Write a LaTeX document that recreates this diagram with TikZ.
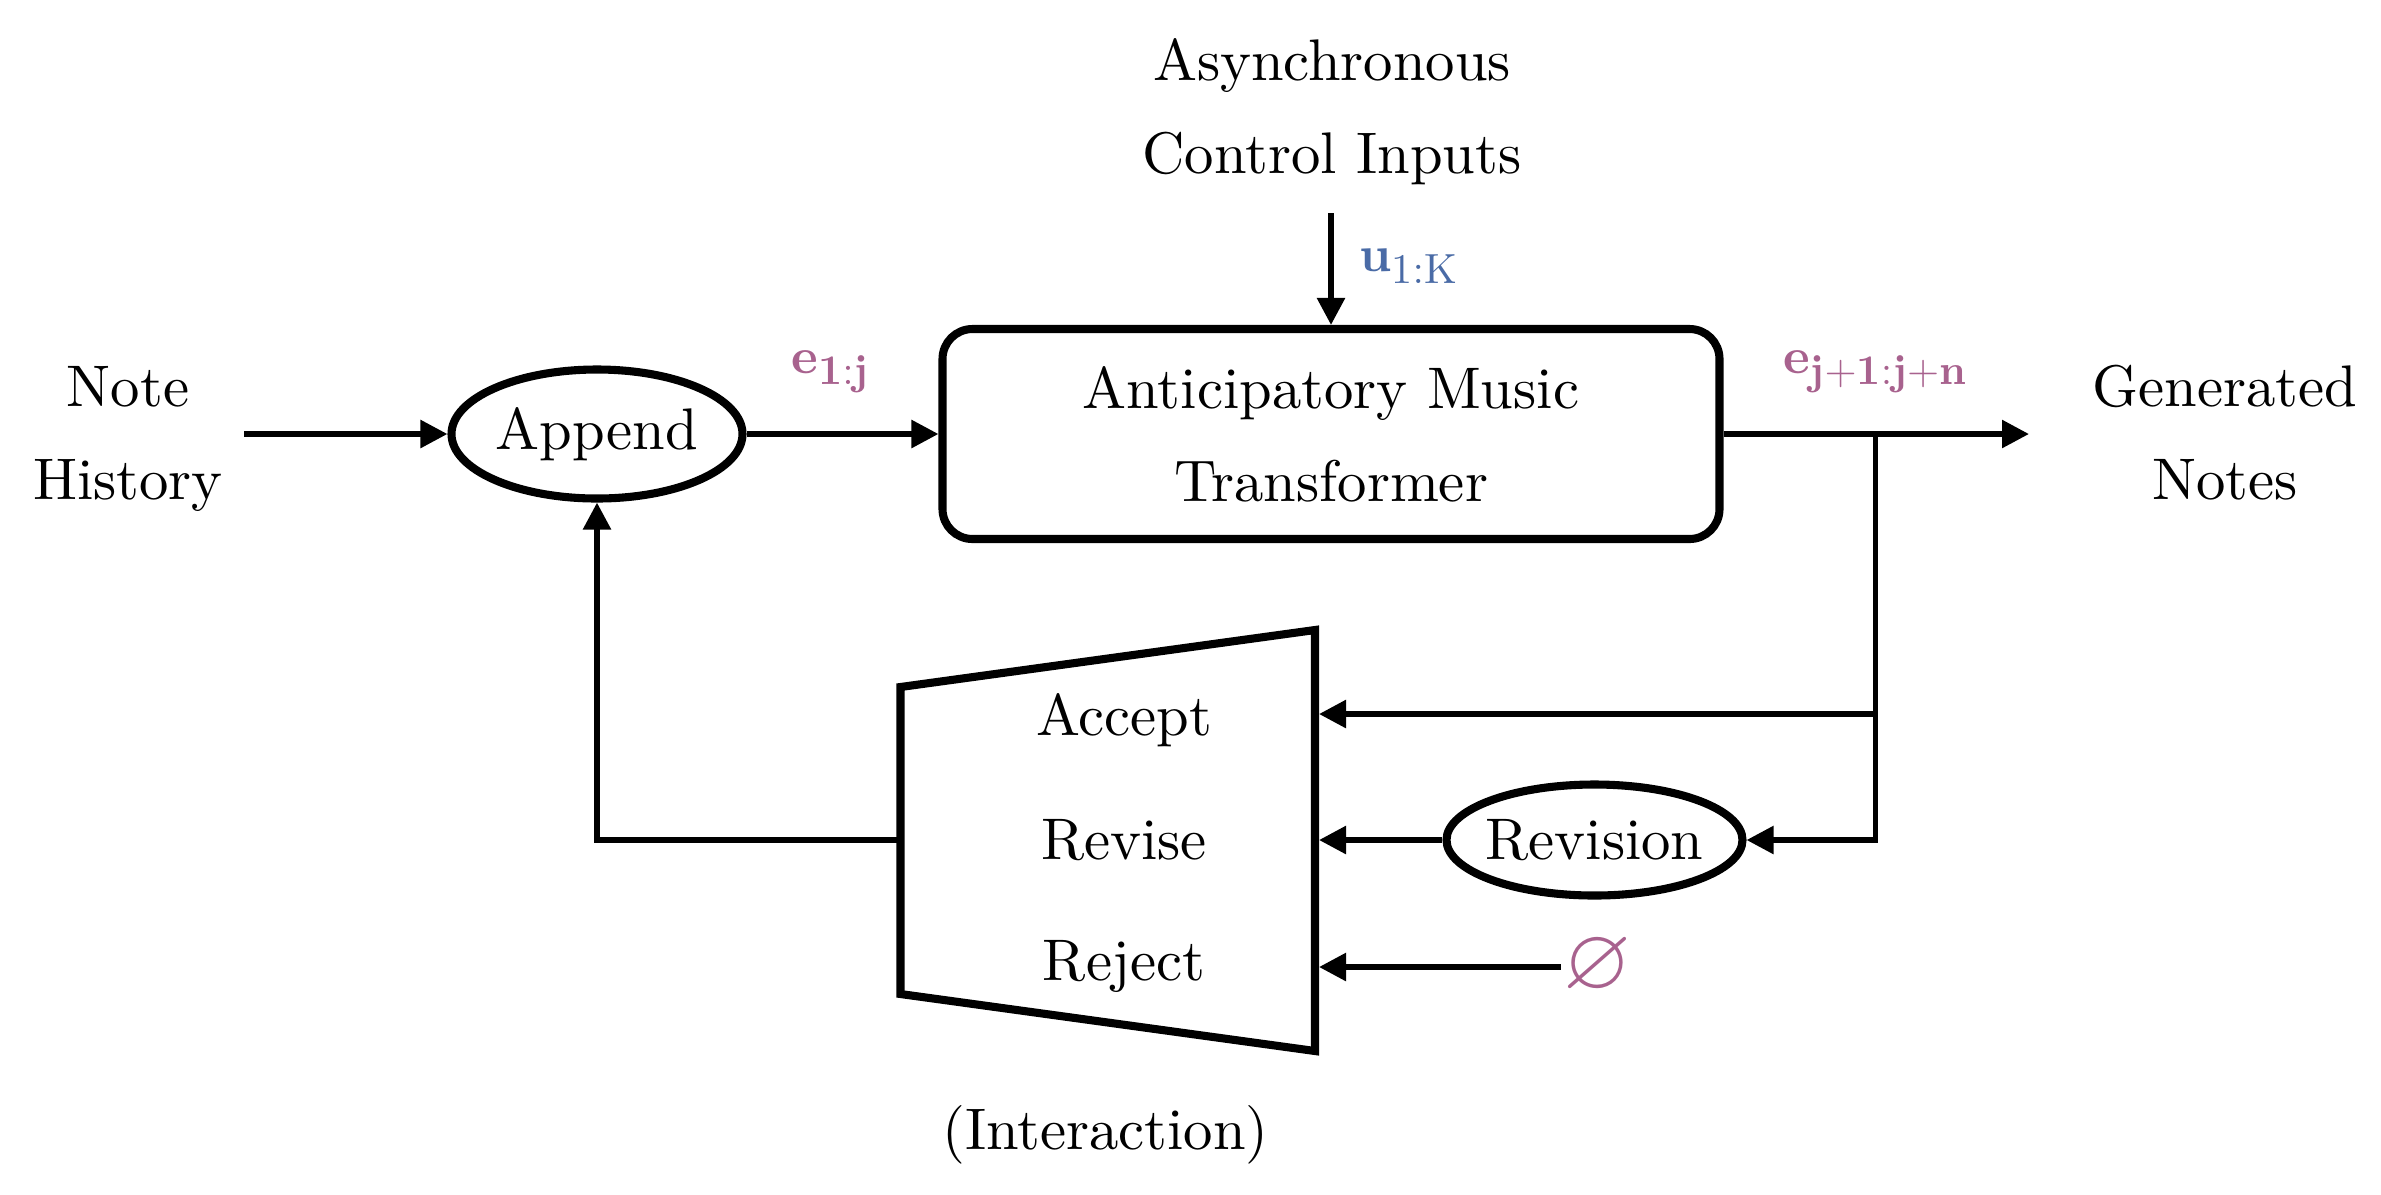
\documentclass[tikz,border=0pt]{standalone}
\usepackage{fontspec}
\setmainfont{lmroman10-regular}[Extension=.otf, BoldFont=lmroman10-bold, ItalicFont=lmroman10-italic]
\usepackage{amsmath, amssymb}
\usepackage{tikz}
\usetikzlibrary{shapes, arrows.meta, positioning, calc}
\DeclareMathSizes{14.4}{14.4}{12}{10}
\definecolor{evtpink}{RGB}{168, 98, 142}
\definecolor{ctrlblue}{RGB}{74, 107, 166}

\begin{document}
\begin{tikzpicture}[
  bigtext/.style={font=\fontsize{16.7}{26.5}\selectfont, align=center},
  flow/.style={line width=1.6pt, -{Triangle[length=0.27cm, width=0.27cm]}},
  oval/.style={draw, ellipse, line width=2.3pt, inner sep=0pt, inner xsep=-0.2cm, bigtext},
  tag/.style={font=\Large}
]
  \useasboundingbox (0,0) rectangle (23.81,-11.94);

  % Main row
  \node[bigtext] (history) at (1.28,-4.39) {Note\\History};
  \node[oval, minimum width=2.91cm, minimum height=1.29cm] (append) at (5.97,-4.34) {Append};
  \node[bigtext, draw, rounded corners=0.3cm, line width=2.3pt,
        minimum width=7.77cm, minimum height=2.10cm] (amt) at (13.31,-4.34) {Anticipatory Music\\Transformer};
  \node[bigtext] (generated) at (22.25,-4.33) {Generated\\Notes};
  \node[bigtext] (controls) at (13.32,-1.12) {Asynchronous\\Control Inputs};
  \coordinate (ctl) at (13.31,-2.13);
  \coordinate (out) at (20.29,-4.34);
  \coordinate (split) at (18.755,-4.34);

  % Labels on the connectors
  \node[tag, text=ctrlblue] (u) at (14.09,-2.66) {$\mathbf{u}_{\mathrm{1:K}}$};
  \node[tag, text=evtpink] (e1j) at (8.31,-3.72) {$\mathbf{e_{1:j}}$};
  \node[tag, text=evtpink] (ejn) at (18.755,-3.72) {$\mathbf{e_{j+1:j+n}}$};

  % Interaction stage
  \draw[line width=2.3pt, line join=miter] (9.005,-6.87) -- (13.15,-6.30) -- (13.15,-10.51) -- (9.005,-9.94) -- cycle;
  \foreach \y/\txt/\nm in {-7.20/Accept/acc, -8.40/Revise/rev, -9.66/Reject/rej} {
    \node[bigtext] (\nm) at (11.24,\y) {\txt};
  }
  \node[bigtext] (interaction) at (11.055,-11.35) {(Interaction)};
  \node[oval, minimum width=2.96cm, minimum height=1.11cm] (revision) at (15.945,-8.40) {Revision};
  \node[font=\Huge, text=evtpink, inner sep=0.02cm] (empty) at (15.975,-9.67) {$\varnothing$};
  \coordinate (jacc) at (18.755,-7.14);
  \coordinate (tacc) at (13.19,-7.14);
  \coordinate (trev) at (13.19,-8.40);
  \coordinate (trej) at (13.19,-9.67);
  \coordinate (tfb) at (9.005,-8.40);

  % Connectors
  \draw[flow] (ctl) -- (amt.north);
  \draw[flow, shorten <=0.09cm] (history.east |- append) -- (append);
  \draw[flow] (append) -- (amt);
  \draw[flow] (amt) -- (out);
  \draw[flow] (split) |- (revision.east);
  \draw[flow] (jacc) -- (tacc);
  \draw[flow] (revision) -- (trev);
  \draw[flow] (empty) -- (trej);
  \draw[flow] (tfb) -| (append.south);
\end{tikzpicture}
\end{document}
